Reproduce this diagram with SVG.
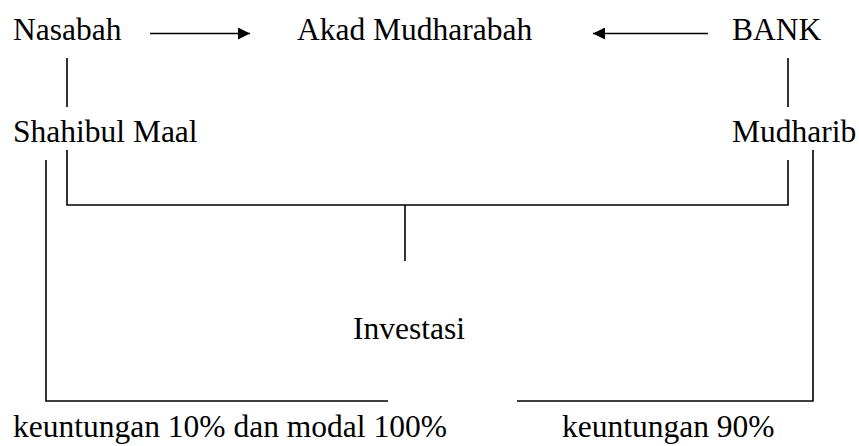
<svg xmlns="http://www.w3.org/2000/svg" width="859" height="446" viewBox="0 0 859 446">
<style>
text{font-family:"Liberation Serif","Times New Roman",serif;font-size:31.5px;fill:#000}
.ln{stroke:#000;stroke-width:1.6;fill:none}
</style>
<defs>
<marker id="ah" viewBox="0 0 10 10" refX="10" refY="5" markerWidth="15" markerHeight="12" markerUnits="userSpaceOnUse" orient="auto">
<path d="M0,0 L10,5 L0,10 Z" fill="#000"/>
</marker>
</defs>
<rect width="859" height="446" fill="#fff"/>
<g id="nasabah"><text x="13" y="40">Nasabah</text></g>
<g id="akad"><text x="297" y="40">Akad Mudharabah</text></g>
<g id="bank"><text x="732" y="40">BANK</text></g>
<g id="shahibul"><text x="13" y="142">Shahibul Maal</text></g>
<g id="mudharib"><text x="732" y="142">Mudharib</text></g>
<g id="investasi"><text x="353" y="339">Investasi</text></g>
<g id="keuntungan-left"><text x="13" y="437">keuntungan 10% dan modal 100%</text></g>
<g id="keuntungan-right"><text x="562" y="437">keuntungan 90%</text></g>
<g id="connectors">
<line class="ln" x1="150" y1="33.5" x2="250" y2="33.5" marker-end="url(#ah)"/>
<line class="ln" x1="708" y1="33.5" x2="593" y2="33.5" marker-end="url(#ah)"/>
<line class="ln" x1="67" y1="58" x2="67" y2="107"/>
<line class="ln" x1="788" y1="58" x2="788" y2="107"/>
<polyline class="ln" points="67,150 67,205 788,205 788,160"/>
<line class="ln" x1="405" y1="205" x2="405" y2="261"/>
<polyline class="ln" points="46,160 46,401 388,401"/>
<polyline class="ln" points="813,150 813,401 517,401"/>
</g>
</svg>
